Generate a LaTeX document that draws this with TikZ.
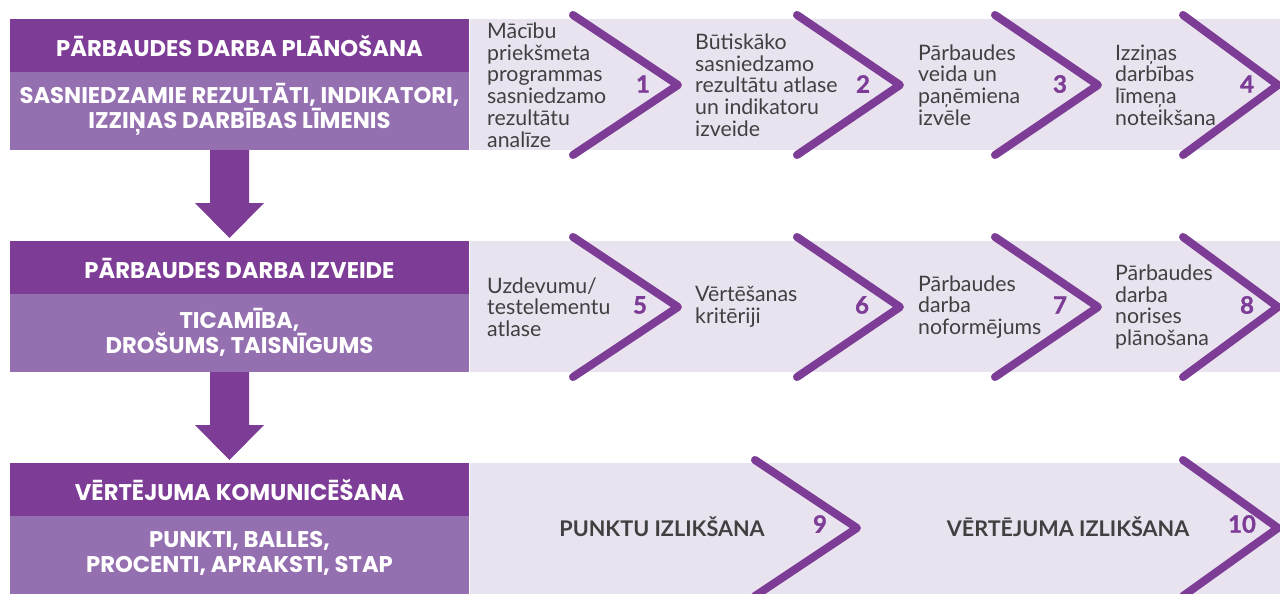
\documentclass[tikz,border=0pt]{standalone}
\usepackage{fontspec}
\setmainfont{Lato}
\newfontfamily\hfont{Poppins}
\newfontfamily\numfont[BoldFeatures={FakeBold=1.2}]{Lato}
\definecolor{dpurple}{HTML}{7D3C96}
\definecolor{lpurple}{HTML}{9570B0}
\definecolor{lav}{HTML}{E9E3F0}
\definecolor{tgrey}{HTML}{404040}
\tikzset{
  chev/.style={draw=dpurple, line width=8pt, line cap=round, line join=round},
  steptext/.style={text=tgrey, align=left, anchor=west, inner sep=0pt, font=\fontsize{21.3}{21.7}\selectfont},
  stepnum/.style={text=dpurple, inner sep=0pt, font=\numfont\fontsize{24}{26}\selectfont\bfseries},
  headtxt/.style={text=white, align=center, inner sep=0pt, font=\hfont\bfseries\fontsize{22.7}{25}\selectfont},
  captxt/.style={text=tgrey, inner sep=0pt, font=\fontsize{21.6}{24}\selectfont\bfseries},
  downarrow/.style={fill=dpurple}
}
\begin{document}
\begin{tikzpicture}[x=1pt,y=-1pt]
\useasboundingbox (0,0) rectangle (1280,594);
\fill[white] (0,0) rectangle (1280,594);
% bands
\foreach \t in {19,241,463}{
  \fill[lav] (470,\t) rectangle (1280,\t+131);
  \fill[dpurple] (10,\t) rectangle (469,\t+53);
  \fill[lpurple] (10,\t+53) rectangle (469,\t+131);
}
% down arrows
\fill[downarrow] (210,150) -- (249,150) -- (249,203) -- (264,203) -- (229.5,238) -- (195,203) -- (210,203) -- cycle;
\fill[downarrow] (210,372) -- (249,372) -- (249,425) -- (264,425) -- (229.5,460) -- (195,425) -- (210,425) -- cycle;
% left headers
\node[headtxt] (h1) at (239.5,46) {PĀRBAUDES DARBA PLĀNOŠANA};
\node[headtxt] (s1) at (239.5,109) {SASNIEDZAMIE REZULTĀTI, INDIKATORI,\\IZZIŅAS DARBĪBAS LĪMENIS};
\node[headtxt] (h2) at (239.5,268) {PĀRBAUDES DARBA IZVEIDE};
\node[headtxt] (s2) at (239.5,332) {TICAMĪBA,\\DROŠUMS, TAISNĪGUMS};
\node[headtxt] (h3) at (239.5,490) {VĒRTĒJUMA KOMUNICĒŠANA};
\node[headtxt] (s3) at (239.5,553) {PUNKTI, BALLES,\\PROCENTI, APRAKSTI, STAP};
% chevrons row 1
\draw[chev] (573,15) -- (678,85) -- (573,155);
\draw[chev] (797,15) -- (900,85) -- (797,155);
\draw[chev] (995,15) -- (1098,85) -- (995,155);
\draw[chev] (1183,15) -- (1278,85) -- (1183,155);
% chevrons row 2
\draw[chev] (573,237) -- (678,307) -- (573,377);
\draw[chev] (797,237) -- (900,307) -- (797,377);
\draw[chev] (995,237) -- (1098,307) -- (995,377);
\draw[chev] (1183,237) -- (1278,307) -- (1183,377);
% chevrons row 3
\draw[chev] (755,460) -- (857,528) -- (755,596);
\draw[chev] (1183,460) -- (1278,528) -- (1183,596);
% step texts row 1
\node[steptext] (t1) at (487,85) {Mācību\\priekšmeta\\programmas\\sasniedzamo\\rezultātu\\analīze};
\node[steptext] (t2) at (695,85) {Būtiskāko\\sasniedzamo\\rezultātu atlase\\un indikatoru\\izveide};
\node[steptext] (t3) at (918,85) {Pārbaudes\\veida un\\paņēmiena\\izvēle};
\node[steptext] (t4) at (1115,85) {Izziņas\\darbības\\līmeņa\\noteikšana};
\node[stepnum] (n1) at (643,84) {1};
\node[stepnum] (n2) at (863,84) {2};
\node[stepnum] (n3) at (1060,84) {3};
\node[stepnum] (n4) at (1247,84) {4};
% step texts row 2
\node[steptext] (t5) at (487,307) {Uzdevumu/\\testelementu\\atlase};
\node[steptext] (t6) at (695,307) {Vērtēšanas\\kritēriji};
\node[steptext] (t7) at (918,307) {Pārbaudes\\darba\\noformējums};
\node[steptext] (t8) at (1115,307) {Pārbaudes\\darba\\norises\\plānošana};
\node[stepnum] (n5) at (640,305) {5};
\node[stepnum] (n6) at (862,305) {6};
\node[stepnum] (n7) at (1060,305) {7};
\node[stepnum] (n8) at (1247,305) {8};
% row 3
\node[captxt] (t9) at (662,527) {PUNKTU IZLIKŠANA};
\node[captxt] (t10) at (1068,527) {VĒRTĒJUMA IZLIKŠANA};
\node[stepnum] (n9) at (820,524) {9};
\node[stepnum] (n10) at (1242,524) {10};
\end{tikzpicture}
\end{document}
